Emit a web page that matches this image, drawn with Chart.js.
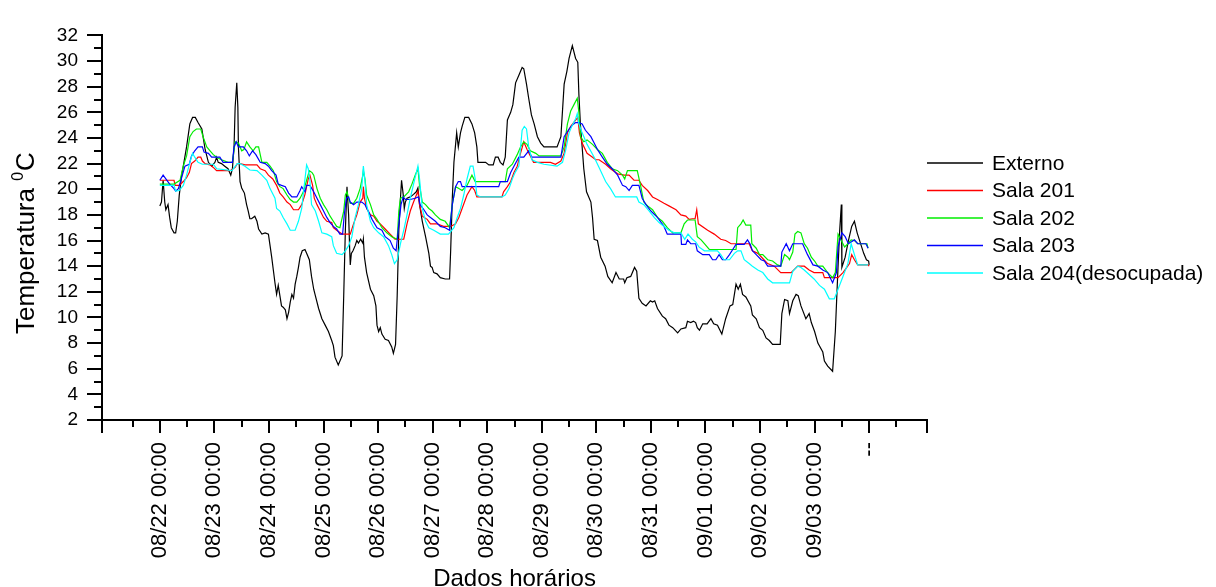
<!DOCTYPE html>
<html>
<head>
<meta charset="utf-8">
<script src="https://cdn.jsdelivr.net/npm/chart.js@4.4.0/dist/chart.umd.min.js"></script>
<style>
  html, body { margin: 0; padding: 0; background: #fff; }
</style>
</head>
<body>
<canvas id="grafico" width="1216" height="587"></canvas>
<script>
// eixo x em dias contados a partir de 08/22 00:00
const xLabels = ['08/22 00:00', '08/23 00:00', '08/24 00:00', '08/25 00:00', '08/26 00:00', '08/27 00:00', '08/28 00:00',
    '08/29 00:00', '08/30 00:00', '08/31 00:00', '09/01 00:00', '09/02 00:00', '09/03 00:00', '--']
const xMin = -1.06, xMax = 14.06
const yMin = 2, yMax = 32

const seriesNames = ['Externo', 'Sala 201', 'Sala 202', 'Sala 203', 'Sala 204(desocupada)']
const seriesColors = ['#000000', '#ff0000', '#00ee00', '#0000ff', '#00ffff']

// EXTERNO
const externoX = [0, 0.03, 0.06, 0.09, 0.11, 0.15, 0.18, 0.21, 0.26, 0.29, 0.32, 0.355, 0.40, 0.43, 0.49, 0.55, 0.60, 0.65, 0.70, 0.77,
    0.80, 0.83, 0.89, 0.95, 1.01, 1.04, 1.07, 1.13, 1.19, 1.25, 1.30, 1.33, 1.36, 1.38, 1.41, 1.43, 1.44, 1.47, 1.50, 1.55,
    1.59, 1.62, 1.65, 1.68, 1.71, 1.74, 1.78, 1.81, 1.87, 1.93, 1.99, 2.02, 2.05, 2.08, 2.11, 2.14, 2.17, 2.20, 2.23, 2.26,
    2.30, 2.33, 2.36, 2.39, 2.42, 2.45, 2.48, 2.51, 2.54, 2.57, 2.61, 2.66, 2.69, 2.74, 2.78, 2.82, 2.85, 2.91, 2.97, 3.03,
    3.09, 3.15, 3.18, 3.21, 3.27, 3.34, 3.37, 3.40, 3.43, 3.46, 3.48, 3.49, 3.51, 3.54, 3.58, 3.61, 3.64, 3.68, 3.72, 3.73,
    3.75, 3.79, 3.86, 3.92, 3.96, 3.98, 4.01, 4.04, 4.07, 4.13, 4.19, 4.25, 4.28, 4.32, 4.35, 4.38, 4.41, 4.43, 4.46, 4.48,
    4.50, 4.53, 4.59, 4.65, 4.70, 4.73, 4.76, 4.81, 4.87, 4.93, 4.96, 4.99, 5.02, 5.08, 5.14, 5.23, 5.31, 5.33, 5.36, 5.39,
    5.44, 5.47, 5.51, 5.54, 5.59, 5.66, 5.72, 5.77, 5.81, 5.83, 5.91, 5.97, 6.03, 6.11, 6.15, 6.20, 6.24, 6.29, 6.33, 6.37,
    6.43, 6.47, 6.52, 6.58, 6.64, 6.67, 6.72, 6.76, 6.81, 6.86, 6.92, 6.98, 7.04, 7.28, 7.35, 7.41, 7.46, 7.50, 7.56, 7.62,
    7.66, 7.68, 7.71, 7.74, 7.77, 7.82, 7.90, 7.93, 7.96, 8.02, 8.08, 8.16, 8.21, 8.29, 8.36, 8.42, 8.50, 8.52, 8.56, 8.63,
    8.70, 8.74, 8.78, 8.84, 8.91, 8.99, 9.03, 9.07, 9.12, 9.21, 9.27, 9.33, 9.40, 9.49, 9.55, 9.64, 9.67, 9.73, 9.78, 9.82,
    9.85, 9.89, 9.95, 10.03, 10.10, 10.15, 10.22, 10.30, 10.37, 10.45, 10.50, 10.56, 10.60, 10.64, 10.68, 10.74, 10.83, 10.86, 10.93, 10.99,
    11.05, 11.11, 11.17, 11.23, 11.37, 11.40, 11.45, 11.51, 11.54, 11.60, 11.66, 11.70, 11.75, 11.84, 11.90, 11.94, 12.00, 12.06, 12.15, 12.18,
    12.24, 12.33, 12.38, 12.43, 12.46, 12.49, 12.50, 12.56, 12.62, 12.68, 12.73, 12.78, 12.84, 12.90, 12.95, 12.99, 13.0]
const externoY = [18.7, 19.0, 20.7, 19.0, 18.4, 18.8, 17.8, 17.0, 16.6, 16.6, 17.5, 19.5, 21.1, 21.8, 23.3, 25.1, 25.6, 25.6, 25.2, 24.7,
    23.9, 23.1, 22.1, 21.8, 22.1, 22.5, 22.1, 22.0, 21.8, 21.6, 21.1, 21.6, 23.3, 26.4, 28.3, 26.4, 23.3, 20.6, 20.1, 19.7,
    18.8, 18.3, 17.7, 17.7, 17.8, 17.9, 17.5, 16.9, 16.5, 16.6, 16.5, 15.6, 14.7, 13.7, 12.7, 11.8, 12.5, 11.7, 10.9, 10.8,
    10.6, 9.9, 10.4, 11.2, 11.8, 11.5, 12.6, 13.2, 13.9, 14.7, 15.2, 15.3, 15.0, 14.5, 13.2, 12.2, 11.7, 10.7, 9.9, 9.4,
    8.9, 8.2, 7.8, 6.9, 6.3, 7.0, 11.7, 16.8, 20.2, 18.0, 15.2, 14.1, 15.0, 15.2, 15.6, 16.0, 15.8, 16.1, 15.8, 16.1,
    14.7, 13.5, 12.2, 11.7, 10.9, 9.4, 8.9, 9.2, 8.7, 8.3, 8.2, 7.7, 7.2, 7.9, 11.7, 16.8, 19.3, 20.7, 19.6, 18.5,
    19.0, 19.3, 19.4, 19.6, 19.8, 20.1, 18.8, 17.5, 16.3, 15.0, 14.0, 13.9, 13.5, 13.4, 13.1, 13.0, 13.0, 15.2, 19.3, 22.1,
    24.4, 23.3, 24.4, 24.9, 25.6, 25.6, 25.1, 24.4, 23.3, 22.1, 22.1, 22.1, 21.9, 21.9, 22.5, 22.5, 22.1, 21.9, 22.5, 25.4,
    26.0, 26.6, 28.3, 28.9, 29.5, 29.4, 28.2, 27.1, 25.8, 25.1, 24.1, 23.6, 23.3, 23.3, 24.1, 28.2, 29.2, 30.2, 31.2, 30.2,
    29.9, 27.4, 24.9, 23.3, 21.6, 19.8, 19.0, 17.8, 16.1, 16.0, 14.7, 14.0, 13.2, 12.7, 13.5, 13.0, 13.0, 12.7, 13.1, 13.2,
    13.9, 13.6, 11.5, 11.1, 10.9, 11.3, 11.2, 11.3, 10.7, 10.1, 9.9, 9.4, 9.2, 8.8, 9.1, 9.2, 9.7, 9.6, 9.7, 9.6,
    9.2, 9.0, 9.5, 9.5, 9.9, 9.5, 9.4, 8.7, 9.9, 10.9, 11.0, 12.6, 12.2, 12.6, 11.8, 11.6, 10.9, 10.2, 9.9, 9.2,
    9.0, 8.4, 8.2, 7.9, 7.9, 10.3, 11.4, 11.3, 10.3, 11.3, 11.8, 11.7, 10.9, 9.9, 10.3, 9.6, 8.9, 8.0, 7.3, 6.6,
    6.2, 5.8, 8.9, 14.0, 16.8, 18.8, 13.9, 14.7, 16.0, 17.1, 17.5, 16.6, 15.8, 15.0, 14.5, 14.4, 14.1]

// SALA 201
const sala201X = [0, 0.26, 0.28, 0.355, 0.43, 0.49, 0.54, 0.58, 0.64, 0.70, 0.75, 0.78, 0.83, 0.92, 0.98, 1.04, 1.29, 1.38, 1.42, 1.47,
    1.56, 1.78, 1.84, 1.93, 1.99, 2.07, 2.14, 2.20, 2.26, 2.33, 2.39, 2.45, 2.54, 2.60, 2.66, 2.72, 2.75, 2.80, 2.83, 2.88,
    2.94, 3.00, 3.06, 3.15, 3.18, 3.24, 3.34, 3.49, 3.55, 3.61, 3.67, 3.72, 3.73, 3.75, 3.79, 3.86, 3.92, 3.98, 4.04, 4.13,
    4.22, 4.31, 4.47, 4.53, 4.59, 4.65, 4.73, 4.76, 4.81, 4.90, 4.96, 5.08, 5.20, 5.33, 5.42, 5.48, 5.54, 5.63, 5.72, 5.77,
    5.81, 6.27, 6.30, 6.37, 6.43, 6.49, 6.55, 6.61, 6.67, 6.73, 6.79, 6.85, 7.16, 7.25, 7.35, 7.41, 7.47, 7.53, 7.62, 7.66,
    7.69, 7.74, 7.83, 7.93, 7.99, 8.05, 8.17, 8.26, 8.39, 8.51, 8.60, 8.69, 8.78, 8.84, 8.94, 9.03, 9.12, 9.24, 9.33, 9.46,
    9.55, 9.64, 9.70, 9.76, 9.81, 9.84, 9.87, 10.04, 10.16, 10.28, 10.37, 10.47, 10.80, 10.86, 10.96, 11.05, 11.14, 11.26, 11.38, 11.57,
    11.69, 11.81, 11.90, 11.99, 12.15, 12.18, 12.43, 12.52, 12.58, 12.64, 12.68, 12.73, 12.79, 12.98, 13.0]
const sala201Y = [20.7, 20.7, 20.3, 20.3, 20.6, 20.9, 21.3, 22.0, 22.2, 22.5, 22.5, 22.2, 22.0, 21.9, 21.7, 21.45, 21.45, 21.7, 22.0, 22.0,
    21.9, 21.9, 21.6, 21.45, 21.1, 20.8, 20.3, 19.7, 19.4, 19.0, 18.8, 18.4, 18.4, 18.8, 19.6, 20.8, 21.1, 20.3, 19.3, 18.8,
    18.3, 17.8, 17.5, 17.4, 17.0, 16.8, 16.5, 16.5, 17.3, 18.0, 19.0, 19.3, 20.2, 19.3, 18.5, 18.0, 17.9, 17.5, 17.3, 16.9,
    16.5, 16.1, 16.1, 17.3, 18.3, 19.0, 19.85, 18.8, 17.9, 17.65, 17.3, 17.3, 17.1, 17.1, 17.3, 17.8, 18.5, 19.55, 20.2, 19.9,
    19.4, 19.4, 19.8, 20.2, 20.6, 21.3, 21.8, 22.8, 23.7, 23.1, 22.6, 22.1, 22.1, 21.95, 22.2, 22.8, 24.4, 24.9, 25.4, 25.6,
    24.4, 23.6, 22.8, 22.5, 22.3, 22.3, 21.95, 21.6, 21.2, 21.1, 21.1, 20.7, 20.7, 20.3, 19.9, 19.4, 19.2, 18.9, 18.7, 18.4,
    18.0, 17.9, 17.65, 17.7, 17.7, 18.4, 17.3, 16.8, 16.5, 16.1, 16.0, 15.75, 15.75, 15.2, 15.0, 14.6, 14.2, 14.0, 13.5, 13.5,
    14.0, 14.0, 13.7, 13.5, 13.5, 13.1, 13.1, 13.5, 13.85, 14.2, 14.9, 14.5, 14.1, 14.1, 14.0]

// SALA 202
const sala202X = [0, 0.26, 0.37, 0.43, 0.49, 0.55, 0.61, 0.67, 0.75, 0.80, 0.86, 0.92, 0.98, 1.04, 1.13, 1.25, 1.33, 1.38, 1.44, 1.50,
    1.54, 1.59, 1.65, 1.71, 1.76, 1.81, 1.87, 1.96, 2.02, 2.08, 2.14, 2.20, 2.26, 2.33, 2.39, 2.45, 2.51, 2.57, 2.63, 2.69,
    2.74, 2.79, 2.82, 2.88, 2.94, 3.00, 3.06, 3.12, 3.18, 3.24, 3.30, 3.37, 3.40, 3.43, 3.46, 3.49, 3.55, 3.61, 3.67, 3.72,
    3.73, 3.76, 3.79, 3.86, 3.92, 3.98, 4.07, 4.16, 4.25, 4.35, 4.38, 4.41, 4.47, 4.56, 4.62, 4.68, 4.73, 4.76, 4.81, 4.87,
    4.93, 4.99, 5.05, 5.14, 5.23, 5.31, 5.36, 5.42, 5.48, 5.54, 5.63, 5.72, 5.78, 6.33, 6.37, 6.46, 6.49, 6.55, 6.61, 6.67,
    6.73, 6.79, 6.89, 6.95, 7.35, 7.41, 7.47, 7.53, 7.59, 7.65, 7.68, 7.71, 7.77, 7.83, 7.93, 8.02, 8.11, 8.20, 8.29, 8.39,
    8.48, 8.52, 8.57, 8.75, 8.81, 8.87, 8.94, 9.03, 9.12, 9.21, 9.30, 9.40, 9.55, 9.61, 9.67, 9.81, 9.85, 9.92, 9.98, 10.07,
    10.56, 10.59, 10.65, 10.69, 10.74, 10.83, 10.85, 10.93, 10.99, 11.05, 11.14, 11.23, 11.32, 11.38, 11.45, 11.51, 11.54, 11.60, 11.64, 11.69,
    11.75, 11.81, 11.87, 11.94, 12.00, 12.06, 12.15, 12.24, 12.33, 12.38, 12.43, 12.49, 12.55, 12.61, 12.67, 12.73, 12.79, 12.96, 12.98]
const sala202Y = [20.4, 20.4, 20.7, 21.8, 22.6, 24.1, 24.5, 24.7, 24.7, 24.0, 23.3, 23.0, 22.7, 22.5, 22.3, 22.1, 22.1, 23.7, 23.6, 23.0,
    23.1, 23.7, 23.3, 23.0, 23.3, 23.3, 22.1, 22.1, 21.8, 21.45, 20.6, 20.2, 20.05, 19.55, 19.2, 19.0, 19.0, 19.3, 19.8, 20.7,
    21.45, 21.3, 21.1, 20.05, 19.3, 18.8, 18.4, 17.9, 17.5, 17.1, 17.0, 18.3, 19.55, 19.8, 19.3, 18.9, 18.9, 19.3, 20.05, 21.1,
    21.45, 20.8, 19.55, 18.8, 18.0, 17.65, 17.0, 16.6, 16.3, 16.1, 18.3, 19.3, 19.4, 19.8, 20.4, 21.1, 21.6, 20.3, 19.0, 18.8,
    18.5, 18.3, 18.0, 17.65, 17.5, 17.0, 18.8, 20.2, 20.05, 19.9, 20.3, 21.1, 20.6, 20.6, 21.6, 21.95, 22.2, 22.7, 23.3, 23.7,
    23.5, 23.0, 22.8, 22.6, 22.6, 23.3, 25.1, 26.1, 26.6, 27.1, 26.0, 24.1, 23.7, 23.85, 23.5, 23.1, 22.8, 22.1, 21.6, 21.45,
    21.1, 20.8, 21.45, 21.45, 20.3, 19.0, 18.7, 18.4, 17.8, 17.5, 17.0, 16.6, 16.6, 17.3, 17.6, 17.6, 16.3, 16.05, 15.75, 15.3,
    15.3, 17.0, 17.3, 17.6, 17.2, 17.2, 15.75, 15.4, 14.9, 14.9, 14.5, 14.4, 14.1, 14.0, 14.9, 14.7, 14.5, 15.1, 16.5, 16.7,
    16.6, 15.75, 15.4, 14.7, 14.4, 14.0, 14.0, 13.5, 13.1, 13.5, 16.5, 16.0, 15.5, 15.75, 16.05, 16.0, 15.75, 15.75, 15.4]

// SALA 203
const sala203X = [0, 0.06, 0.18, 0.26, 0.29, 0.34, 0.40, 0.46, 0.54, 0.58, 0.64, 0.70, 0.78, 0.81, 0.89, 0.95, 1.10, 1.13, 1.16, 1.33,
    1.36, 1.40, 1.44, 1.53, 1.59, 1.64, 1.70, 1.76, 1.84, 1.93, 1.99, 2.05, 2.13, 2.17, 2.23, 2.30, 2.36, 2.42, 2.51, 2.57,
    2.60, 2.66, 2.69, 2.75, 2.82, 2.88, 2.94, 3.00, 3.06, 3.12, 3.18, 3.24, 3.30, 3.35, 3.38, 3.42, 3.46, 3.49, 3.55, 3.61,
    3.70, 3.76, 3.83, 3.89, 3.98, 4.07, 4.13, 4.22, 4.28, 4.33, 4.38, 4.42, 4.46, 4.50, 4.59, 4.68, 4.74, 4.77, 4.84, 4.90,
    4.96, 5.05, 5.14, 5.23, 5.31, 5.36, 5.42, 5.47, 5.51, 5.54, 6.21, 6.24, 6.37, 6.43, 6.49, 6.58, 6.67, 6.76, 6.82, 7.35,
    7.41, 7.50, 7.56, 7.62, 7.68, 7.74, 7.80, 7.90, 7.96, 8.02, 8.11, 8.20, 8.29, 8.39, 8.48, 8.54, 8.60, 8.66, 8.78, 8.84,
    8.91, 9.00, 9.12, 9.24, 9.30, 9.55, 9.56, 9.64, 9.67, 9.73, 9.82, 9.85, 9.95, 10.07, 10.13, 10.19, 10.25, 10.31, 10.37, 10.44,
    10.50, 10.56, 10.71, 10.77, 10.82, 10.86, 10.93, 11.02, 11.08, 11.14, 11.38, 11.40, 11.48, 11.54, 11.60, 11.78, 11.87, 11.97, 12.06, 12.15,
    12.24, 12.33, 12.40, 12.43, 12.50, 12.56, 12.62, 12.73, 12.79, 12.94, 12.98]
const sala203Y = [20.7, 21.1, 20.4, 20.05, 19.85, 20.05, 20.9, 21.8, 21.95, 22.6, 23.0, 23.3, 23.3, 22.9, 22.8, 22.5, 22.5, 22.3, 22.1, 22.1,
    23.3, 23.7, 23.3, 23.3, 23.0, 22.6, 23.0, 22.7, 22.1, 22.0, 21.8, 21.45, 21.1, 20.4, 20.3, 20.2, 19.7, 19.4, 19.4, 19.9,
    20.2, 19.8, 20.3, 20.3, 19.8, 19.3, 18.8, 18.3, 17.8, 17.4, 17.1, 16.9, 16.5, 16.5, 18.0, 19.3, 19.4, 19.0, 18.8, 19.0,
    19.0, 18.8, 18.2, 17.65, 17.0, 16.8, 16.3, 16.0, 15.4, 15.2, 17.3, 18.8, 19.4, 19.2, 19.2, 19.3, 19.4, 18.8, 18.4, 18.0,
    17.8, 17.5, 17.1, 17.0, 16.8, 18.8, 20.2, 20.6, 20.6, 20.2, 20.2, 20.6, 20.6, 21.3, 21.8, 22.5, 22.5, 23.0, 22.5, 22.5,
    24.1, 24.7, 25.0, 25.2, 25.2, 25.1, 24.6, 24.1, 23.6, 23.1, 22.5, 21.95, 21.6, 21.1, 20.3, 20.2, 19.9, 20.3, 20.3, 19.3,
    18.8, 18.3, 17.8, 17.1, 16.5, 16.5, 15.7, 15.7, 16.05, 15.75, 15.75, 15.2, 14.9, 14.9, 14.5, 14.5, 14.9, 14.5, 14.5, 14.9,
    15.3, 15.7, 15.7, 16.05, 15.7, 15.2, 14.9, 14.5, 14.4, 14.0, 14.0, 15.1, 15.75, 15.2, 15.75, 15.75, 14.9, 14.1, 14.0, 13.7,
    13.5, 12.7, 13.5, 15.5, 16.6, 16.3, 15.75, 16.05, 15.75, 15.75, 15.4]

// SALA 204 (desocupada)
const sala204X = [0, 0.26, 0.29, 0.355, 0.43, 0.49, 0.55, 0.60, 0.64, 0.70, 0.78, 0.98, 1.04, 1.32, 1.42, 1.47, 1.56, 1.65, 1.78, 1.87,
    1.96, 2.02, 2.11, 2.14, 2.20, 2.26, 2.33, 2.39, 2.48, 2.54, 2.60, 2.64, 2.69, 2.72, 2.75, 2.78, 2.85, 2.91, 2.97, 3.06,
    3.15, 3.18, 3.24, 3.34, 3.40, 3.46, 3.52, 3.58, 3.64, 3.70, 3.73, 3.76, 3.79, 3.86, 3.92, 4.01, 4.10, 4.19, 4.25, 4.30,
    4.35, 4.41, 4.47, 4.53, 4.59, 4.65, 4.73, 4.76, 4.81, 4.87, 4.93, 5.02, 5.14, 5.29, 5.39, 5.45, 5.51, 5.57, 5.63, 5.69,
    5.74, 5.78, 5.81, 5.88, 6.27, 6.33, 6.40, 6.46, 6.51, 6.58, 6.64, 6.68, 6.72, 6.76, 6.82, 6.92, 7.04, 7.28, 7.38, 7.44,
    7.50, 7.56, 7.62, 7.65, 7.68, 7.74, 7.83, 7.96, 8.05, 8.17, 8.26, 8.35, 8.74, 8.78, 8.87, 8.97, 9.06, 9.15, 9.24, 9.33,
    9.43, 9.55, 9.62, 9.68, 9.76, 9.82, 9.88, 9.98, 10.22, 10.28, 10.34, 10.44, 10.53, 10.59, 10.65, 10.71, 10.80, 10.86, 10.96, 11.05,
    11.14, 11.23, 11.54, 11.60, 11.69, 11.75, 11.81, 11.90, 11.99, 12.09, 12.18, 12.27, 12.36, 12.43, 12.52, 12.61, 12.67, 12.73, 12.79, 12.98]
const sala204Y = [20.3, 20.3, 19.85, 19.9, 20.3, 21.1, 22.1, 22.8, 22.5, 22.1, 21.95, 21.95, 21.6, 21.45, 22.0, 22.0, 21.8, 21.5, 21.45, 21.1,
    20.7, 20.05, 19.3, 18.5, 18.3, 17.8, 17.3, 16.8, 16.8, 17.5, 18.5, 20.05, 21.9, 21.6, 20.7, 18.8, 18.3, 17.5, 16.6, 16.5,
    16.3, 15.6, 15.0, 14.9, 15.2, 15.6, 16.3, 17.8, 18.8, 20.05, 21.8, 20.6, 18.8, 17.5, 17.0, 16.6, 16.3, 15.6, 14.9, 14.2,
    14.5, 15.75, 16.8, 18.0, 19.3, 20.4, 21.8, 20.8, 18.5, 17.5, 17.0, 16.8, 16.5, 16.5, 17.0, 17.8, 18.5, 19.55, 20.8, 21.8,
    21.8, 20.8, 19.55, 19.4, 19.4, 19.55, 20.05, 20.8, 21.3, 21.8, 24.6, 24.9, 24.7, 23.3, 22.3, 22.1, 21.95, 21.8, 22.1, 23.1,
    24.4, 25.0, 25.5, 25.9, 25.1, 24.4, 23.5, 22.5, 21.7, 20.6, 20.05, 19.4, 19.4, 19.0, 18.8, 18.3, 17.8, 17.4, 17.1, 16.8,
    16.6, 16.6, 16.1, 16.5, 16.1, 15.9, 15.5, 15.2, 15.2, 14.9, 14.5, 14.5, 15.0, 15.2, 15.2, 14.5, 14.2, 14.0, 13.7, 13.5,
    13.0, 12.7, 12.7, 13.6, 14.0, 13.9, 13.7, 13.35, 13.0, 12.5, 12.2, 11.45, 11.45, 12.2, 13.2, 14.2, 15.75, 14.9, 14.1, 14.1]

const allX = [externoX, sala201X, sala202X, sala203X, sala204X]
const allY = [externoY, sala201Y, sala202Y, sala203Y, sala204Y]

const fonte = "'Liberation Sans', Arial, sans-serif"
Chart.defaults.font.family = fonte
Chart.defaults.color = '#000'

let datasets = seriesNames.map((name, i) => ({
    label: name,
    data: allX[i].map((x, j) => ({x: x, y: allY[i][j]})),
    borderColor: seriesColors[i],
    borderWidth: 1.2,
    pointRadius: 0,
    tension: 0,
    fill: false,
    order: seriesNames.length - i   // externo fica por baixo
}))

// marcas dos eixos, legenda e titulo do eixo y
const decor = {
    id: 'decor',
    afterDraw(chart) {
        const ctx = chart.ctx
        const xs = chart.scales.x, ys = chart.scales.y
        const area = chart.chartArea
        ctx.save()
        ctx.strokeStyle = '#000'
        ctx.lineWidth = 2
        ctx.beginPath()
        for (let v = yMin; v <= yMax; v++) {
            const py = Math.round(ys.getPixelForValue(v))
            const len = v % 2 == 0 ? 15 : 8
            ctx.moveTo(area.left - len, py)
            ctx.lineTo(area.left, py)
        }
        let longas = [xs.min, xs.max]
        for (let i = 0; i < xLabels.length; i++) longas.push(i)
        longas.forEach(v => {
            const px = Math.round(xs.getPixelForValue(v))
            ctx.moveTo(px, area.bottom)
            ctx.lineTo(px, area.bottom + 13)
        })
        for (let v = -0.5; v < xs.max; v++) {
            const px = Math.round(xs.getPixelForValue(v))
            ctx.moveTo(px, area.bottom)
            ctx.lineTo(px, area.bottom + 7)
        }
        ctx.stroke()

        // legenda
        const lx = area.right
        ctx.font = '21px ' + fonte
        ctx.textBaseline = 'middle'
        ctx.fillStyle = '#000'
        seriesNames.forEach((name, i) => {
            const ly = 163 + i * 27.5
            ctx.strokeStyle = seriesColors[i]
            ctx.lineWidth = 1.3
            ctx.beginPath()
            ctx.moveTo(lx, ly)
            ctx.lineTo(lx + 56, ly)
            ctx.stroke()
            ctx.fillText(name, lx + 65, ly + 1)
        })

        // titulo y com o 0 sobrescrito
        ctx.translate(34, 334)
        ctx.rotate(-Math.PI / 2)
        ctx.textBaseline = 'alphabetic'
        ctx.font = '26px ' + fonte
        let t1 = 'Temperatura '
        ctx.fillText(t1, 0, 0)
        let w = ctx.measureText(t1).width
        ctx.font = '16px ' + fonte
        ctx.fillText('0', w, -11)
        w += ctx.measureText('0').width + 1
        ctx.font = '26px ' + fonte
        ctx.fillText('C', w, 0)
        ctx.restore()
    }
}

new Chart(document.getElementById('grafico'), {
    type: 'line',
    data: { datasets: datasets },
    options: {
        responsive: false,
        animation: false,
        layout: { padding: { left: 0, top: 26, right: 289, bottom: 0 } },
        plugins: { legend: { display: false }, tooltip: { enabled: false } },
        scales: {
            x: {
                type: 'linear',
                min: xMin,
                max: xMax,
                grid: { display: false, drawTicks: false },
                border: { display: true, color: '#000', width: 2 },
                afterBuildTicks: scale => { scale.ticks = xLabels.map((l, i) => ({ value: i })) },
                afterFit: scale => { scale.height = 167 },
                ticks: {
                    autoSkip: false,
                    minRotation: 90,
                    maxRotation: 90,
                    padding: 22,
                    font: { size: 22 },
                    callback: v => xLabels[v]
                },
                title: {
                    display: true,
                    text: 'Dados horários',
                    font: { size: 24, lineHeight: 1 },
                    padding: { top: 0, bottom: -4 }
                }
            },
            y: {
                min: yMin,
                max: yMax,
                grid: { display: false, drawTicks: false },
                border: { display: true, color: '#000', width: 2 },
                afterFit: scale => { scale.width = 102 },
                ticks: { stepSize: 2, autoSkip: false, padding: 24, font: { size: 19 } }
            }
        }
    },
    plugins: [decor]
})
</script>
</body>
</html>
